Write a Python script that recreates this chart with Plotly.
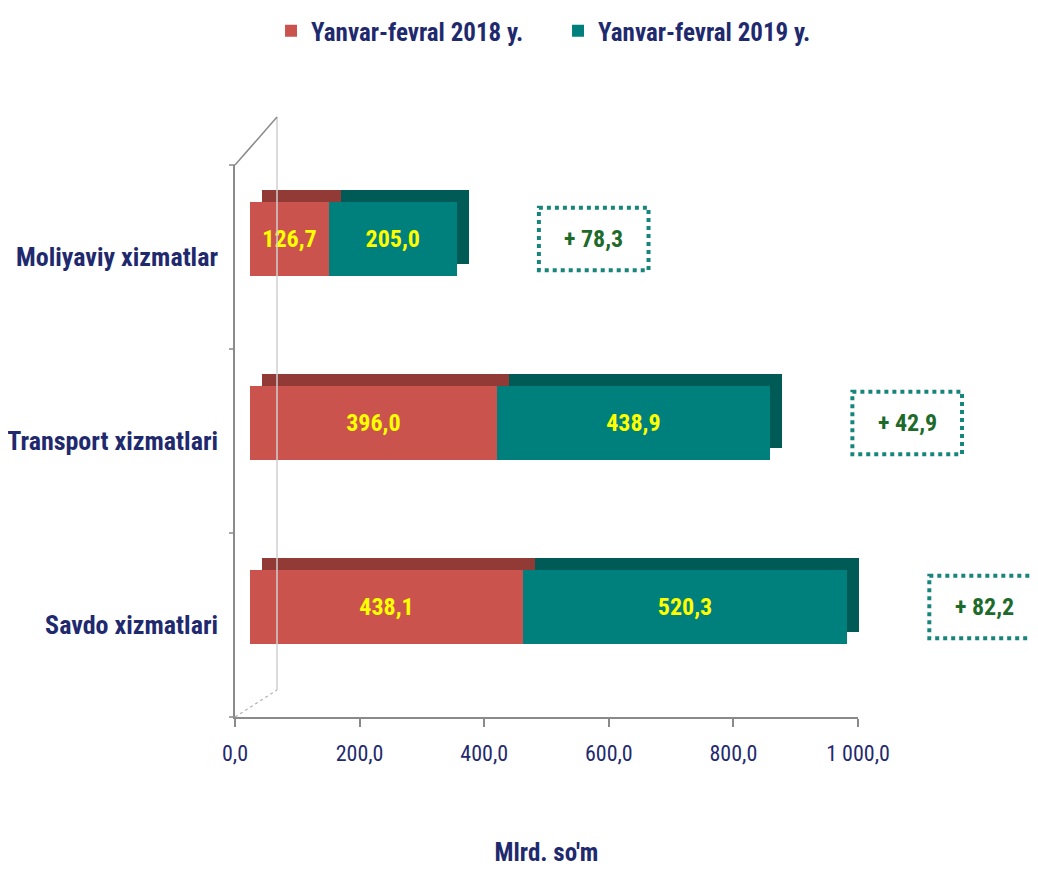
import plotly.graph_objects as go

# ---- data ----
categories = ["Moliyaviy xizmatlar", "Transport xizmatlari", "Savdo xizmatlari"]
series_names = ["Yanvar-fevral 2018 y.", "Yanvar-fevral 2019 y."]
values_2018 = [126.7, 396.0, 438.1]
values_2019 = [205.0, 438.9, 520.3]
tick_values = [0, 200, 400, 600, 800, 1000]
tick_labels = ["0,0", "200,0", "400,0", "600,0", "800,0", "1\u00a0000,0"]
axis_title = "Mlrd. so'm"

# ---- layout constants (pixels, page coords minus the 8px body margin) ----
W, H = 1038, 869
OFF = 8
AX_X0, AX_X1 = 235 - OFF, 858 - OFF        # value axis 0 .. 1000
AX_YTOP, AX_YBOT = 165 - OFF, 717 - OFF    # category band
SCALE = (AX_X1 - AX_X0) / 1000.0
FRONT_DX, FRONT_DY = 15, -18     # 3D offset of bar front face
DEPTH_DX, DEPTH_DY = 27, -30     # back face of bars
WALL_DX, WALL_DY = 42, -48

RED, RED_D = "#cb534e", "#923a36"
TEAL, TEAL_D = "#00807d", "#005a56"
NAVY = "#1f2a6e"
FONT = "Liberation Sans Narrow, Arial Narrow, Roboto Condensed, Liberation Sans, sans-serif"


def fmt(v):
    return f"{v:.1f}".replace(".", ",")


def xdom(x0px):
    return [x0px / W, 1.0], [0, (W - x0px) / SCALE]


def ydom(dy):
    top, bot = AX_YTOP + dy, AX_YBOT + dy
    return [(H - bot) / H, (H - top) / H]


def py(ypx):
    return (H - ypx) / H


fig = go.Figure()

# invisible trace on base axes (category labels + value axis)
fig.add_trace(go.Scatter(x=[0] * len(categories), y=categories, mode="markers",
                         marker=dict(opacity=0), showlegend=False, hoverinfo="skip",
                         xaxis="x", yaxis="y"))

# depth (back) bars
for vals, col in [(values_2018, RED_D), (values_2019, TEAL_D)]:
    fig.add_trace(go.Bar(x=vals, y=categories, orientation="h", marker=dict(color=col, line=dict(width=0)),
                         width=0.40, showlegend=False, hoverinfo="skip", xaxis="x2", yaxis="y2"))

# front bars
for name, vals, col in [(series_names[0], values_2018, RED), (series_names[1], values_2019, TEAL)]:
    fig.add_trace(go.Bar(x=vals, y=categories, orientation="h", name=f"<b>{name}</b>",
                         marker=dict(color=col, line=dict(width=0)), width=0.40,
                         text=[f"<b>{fmt(v)}</b>" for v in vals], textposition="inside",
                         insidetextanchor="middle",
                         textfont=dict(color="#ffff00", size=24, family=FONT),
                         xaxis="x3", yaxis="y3"))

# difference boxes
shapes = []
annotations = []
for i, cat in enumerate(categories):
    total = values_2018[i] + values_2019[i]
    diff = values_2019[i] - values_2018[i]
    cx = total + 220
    shapes.append(dict(type="rect", xref="x3", yref="y3", x0=cx - 88, x1=cx + 88,
                       y0=i - 0.17, y1=i + 0.17,
                       line=dict(color="#17857b", width=4, dash="dot"), fillcolor="rgba(0,0,0,0)"))
    annotations.append(dict(x=cx, y=cat, xref="x3", yref="y3", text=f"<b>+ {fmt(diff)}</b>",
                            showarrow=False, font=dict(color="#1d6a2a", size=24, family=FONT)))

# 3D wall lines
wall_x = AX_X0 + WALL_DX
shapes += [
    dict(type="line", xref="paper", yref="paper", x0=wall_x / W, x1=wall_x / W,
         y0=py(AX_YTOP + WALL_DY), y1=py(AX_YBOT - 27), line=dict(color="#cfcfcf", width=1.5)),
    dict(type="line", xref="paper", yref="paper", x0=AX_X0 / W, x1=wall_x / W,
         y0=py(AX_YTOP), y1=py(AX_YTOP + WALL_DY), line=dict(color="#8a8a8a", width=1.5)),
    dict(type="line", xref="paper", yref="paper", x0=AX_X0 / W, x1=wall_x / W,
         y0=py(AX_YBOT), y1=py(AX_YBOT - 27), line=dict(color="#b0b0b0", width=1.2, dash="dot")),
]
for i in range(4):
    ypx = AX_YTOP + i * (AX_YBOT - AX_YTOP) / 3
    shapes.append(dict(type="line", xref="paper", yref="paper", x0=(AX_X0 - 6) / W, x1=AX_X0 / W,
                       y0=py(ypx), y1=py(ypx), line=dict(color="#8a8a8a", width=1.5)))

x2d, x2r = xdom(AX_X0 + DEPTH_DX)
x3d, x3r = xdom(AX_X0 + FRONT_DX)
hidden = dict(visible=False, fixedrange=True)

fig.update_layout(
    width=W, height=H,
    margin=dict(l=0, r=0, t=0, b=0, pad=0, autoexpand=False),
    paper_bgcolor="white", plot_bgcolor="rgba(0,0,0,0)",
    barmode="stack", bargap=0.5,
    font=dict(family=FONT, color=NAVY),
    xaxis=dict(domain=[AX_X0 / W, AX_X1 / W], range=[0, 1000], anchor="y", automargin=False,
               tickvals=tick_values, ticktext=tick_labels, ticks="outside", ticklen=8,
               tickcolor="#8a8a8a", tickwidth=1.5, showline=True, linecolor="#8a8a8a", linewidth=1.5,
               showgrid=False, zeroline=False, ticklabelstandoff=8,
               tickfont=dict(size=22, color=NAVY, family=FONT),
               title=dict(text=f"<b>{axis_title}</b>", standoff=78,
                          font=dict(size=25, color=NAVY, family=FONT))),
    yaxis=dict(domain=ydom(0), type="category", categoryorder="array", categoryarray=categories,
               range=[2.5, -0.5], anchor="x", showline=True, linecolor="#8a8a8a", linewidth=1.5,
               ticks="", showgrid=False, zeroline=False, ticklabelstandoff=10, automargin=False,
               tickfont=dict(size=26, color=NAVY, family=FONT),
               tickvals=categories, ticktext=[f"<b>{c}</b>" for c in categories]),
    xaxis2=dict(domain=x2d, range=x2r, anchor="y2", **hidden),
    yaxis2=dict(domain=ydom(DEPTH_DY), type="category", categoryorder="array", categoryarray=categories,
                range=[2.5, -0.5], anchor="x2", **hidden),
    xaxis3=dict(domain=x3d, range=x3r, anchor="y3", **hidden),
    yaxis3=dict(domain=ydom(FRONT_DY), type="category", categoryorder="array", categoryarray=categories,
                range=[2.5, -0.5], anchor="x3", **hidden),
    legend=dict(orientation="h", x=0.2534, y=1.0, xanchor="left", yanchor="top",
                traceorder="normal", entrywidth=242, entrywidthmode="pixels",
                font=dict(size=25, color=NAVY, family=FONT), itemwidth=30, tracegroupgap=0,
                bgcolor="rgba(0,0,0,0)"),
    shapes=shapes,
    annotations=annotations,
    uniformtext=dict(mode="show", minsize=10),
)

fig.write_html("out.html")
